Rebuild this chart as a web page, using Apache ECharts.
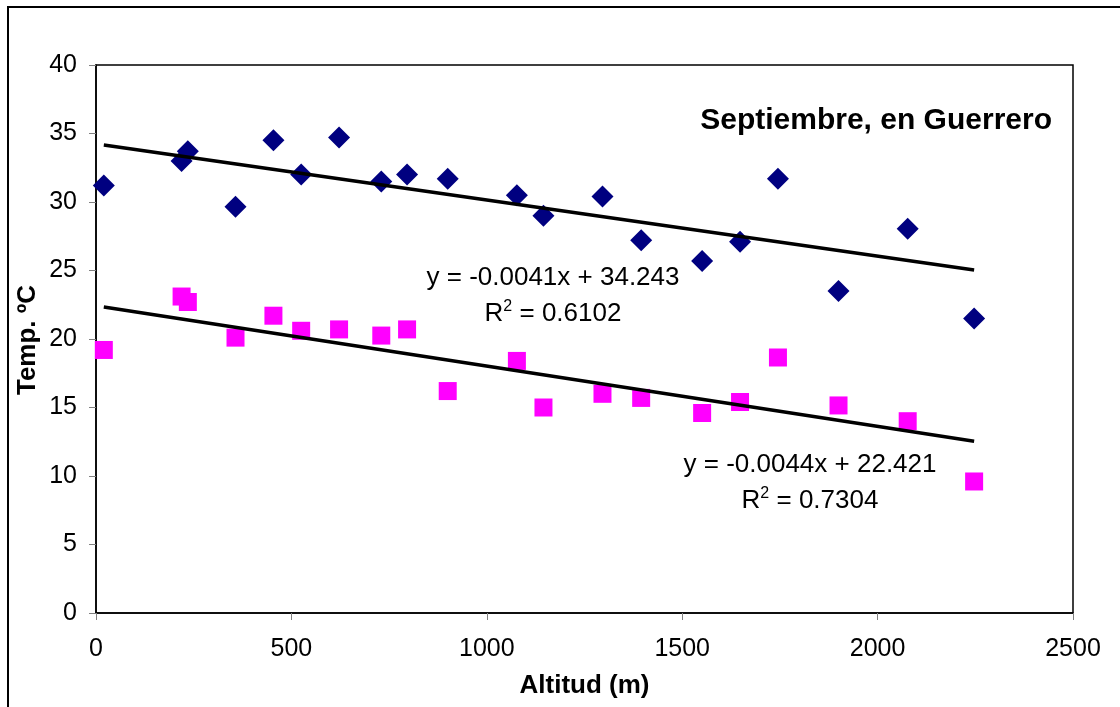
<!DOCTYPE html>
<html lang="es">
<head>
    <meta charset="UTF-8">
    <title>Septiembre, en Guerrero</title>
    <style>
        html, body { margin: 0; padding: 0; background: #fff; }
        #main { width: 1120px; height: 707px; }
    </style>
</head>
<body>
<div id="main"></div>
<script src="https://cdn.jsdelivr.net/npm/echarts@6/dist/echarts.min.js"></script>
<script>
    // altitud de cada estacion (m)
    const altitud = [20, 219, 235, 357, 454, 525, 622, 730, 796, 900, 1077, 1145, 1296, 1395, 1551, 1648, 1745, 1900, 2077, 2247];
    // temperatura maxima (azul) y minima (rosa), grados C
    const tempMax = [31.2, 33.0, 33.7, 29.65, 34.5, 32.0, 34.7, 31.5, 32.0, 31.7, 30.5, 29.0, 30.4, 27.2, 25.7, 27.1, 31.7, 23.5, 28.05, 21.5];
    const tempMin = [19.2, 23.1, 22.7, 20.1, 21.7, 20.6, 20.7, 20.25, 20.7, 16.2, 18.4, 15.0, 16.0, 15.7, 14.6, 15.4, 18.65, 15.15, 14.0, 9.6];
    // lineas de tendencia: [pendiente, ordenada, r2]
    const tendMax = [-0.0041, 34.243, 0.6102];
    const tendMin = [-0.0044, 22.421, 0.7304];
    const xTicks = [0, 500, 1000, 1500, 2000, 2500];
    const yTicks = [0, 5, 10, 15, 20, 25, 30, 35, 40];

    const font = '"Liberation Sans", Arial, sans-serif';

    function pares(xs, ys) {
        return xs.map((x, i) => [x, ys[i]]);
    }
    // extremos de la recta dentro del rango de altitudes
    function recta(t) {
        const x0 = altitud[0], x1 = altitud[altitud.length - 1];
        return [[x0, t[0] * x0 + t[1]], [x1, t[0] * x1 + t[1]]];
    }
    function ecuacion(t, cx, cy) {
        const m = t[0].toFixed(4), b = t[1].toFixed(3);
        return [
            {
                type: 'text', x: cx, y: cy,
                style: {
                    text: 'y = ' + m + 'x + ' + b,
                    font: '26px ' + font, fill: '#000',
                    align: 'center', verticalAlign: 'middle'
                }
            },
            {
                type: 'text', x: cx, y: cy + 35,
                style: {
                    text: '{n|R}{s|2}{n| = ' + t[2].toFixed(4) + '}',
                    align: 'center', verticalAlign: 'middle',
                    rich: {
                        n: { font: '26px ' + font, fill: '#000', verticalAlign: 'bottom' },
                        s: { font: '16px ' + font, fill: '#000', verticalAlign: 'top', padding: [0, 0, 12, 0] }
                    }
                }
            }
        ];
    }

    const myChart = echarts.init(document.getElementById('main'));

    const option = {
        animation: false,
        backgroundColor: '#fff',
        grid: {
            left: 96, top: 65, right: 47, bottom: 94,
            show: true, borderColor: '#000', borderWidth: 1.5,
            containLabel: false
        },
        xAxis: {
            type: 'value',
            min: xTicks[0], max: xTicks[xTicks.length - 1], interval: 500,
            name: 'Altitud (m)',
            nameLocation: 'middle', nameGap: 60,
            nameTextStyle: { fontFamily: font, fontSize: 26, fontWeight: 'bold', color: '#000' },
            axisLine: { show: true, onZero: false, lineStyle: { color: '#000', width: 1.5 } },
            axisTick: { show: true, length: 7, lineStyle: { color: '#808080' } },
            axisLabel: { fontFamily: font, fontSize: 25, color: '#000', margin: 24, formatter: v => String(v) },
            splitLine: { show: false }
        },
        yAxis: {
            type: 'value',
            min: yTicks[0], max: yTicks[yTicks.length - 1], interval: 5,
            axisLine: { show: true, onZero: false, lineStyle: { color: '#000', width: 1.5 } },
            axisTick: { show: true, length: 7, lineStyle: { color: '#808080' } },
            axisLabel: { fontFamily: font, fontSize: 25, color: '#000', margin: 19, formatter: v => String(v) },
            splitLine: { show: false }
        },
        graphic: [
            {
                type: 'rect', silent: true,
                shape: { x: 8, y: 7, width: 1200, height: 800 },
                style: { fill: 'none', stroke: '#000', lineWidth: 2 }
            },
            {
                type: 'text', right: 68, top: 106,
                style: {
                    text: 'Septiembre, en Guerrero',
                    font: 'bold 30px ' + font, fill: '#000'
                }
            },
            {
                // titulo del eje vertical
                type: 'text', x: 28, y: 340, rotation: Math.PI / 2,
                style: {
                    text: 'Temp. ºC',
                    font: 'bold 26px ' + font, fill: '#000',
                    align: 'center', verticalAlign: 'middle'
                }
            }
        ].concat(ecuacion(tendMax, 553, 278), ecuacion(tendMin, 810, 465)),
        series: [
            {
                name: 'Máxima', type: 'scatter',
                symbol: 'diamond', symbolSize: [22, 22],
                itemStyle: { color: '#000080', opacity: 1 },
                data: pares(altitud, tempMax)
            },
            {
                name: 'Mínima', type: 'scatter',
                symbol: 'rect', symbolSize: [18, 18],
                itemStyle: { color: '#ff00ff', opacity: 1 },
                data: pares(altitud, tempMin)
            },
            {
                name: 'Tendencia máxima', type: 'line',
                showSymbol: false, silent: true,
                lineStyle: { color: '#000', width: 3.5 },
                data: recta(tendMax)
            },
            {
                name: 'Tendencia mínima', type: 'line',
                showSymbol: false, silent: true,
                lineStyle: { color: '#000', width: 3.5 },
                data: recta(tendMin)
            }
        ]
    };
    myChart.setOption(option);
</script>
</body>
</html>
